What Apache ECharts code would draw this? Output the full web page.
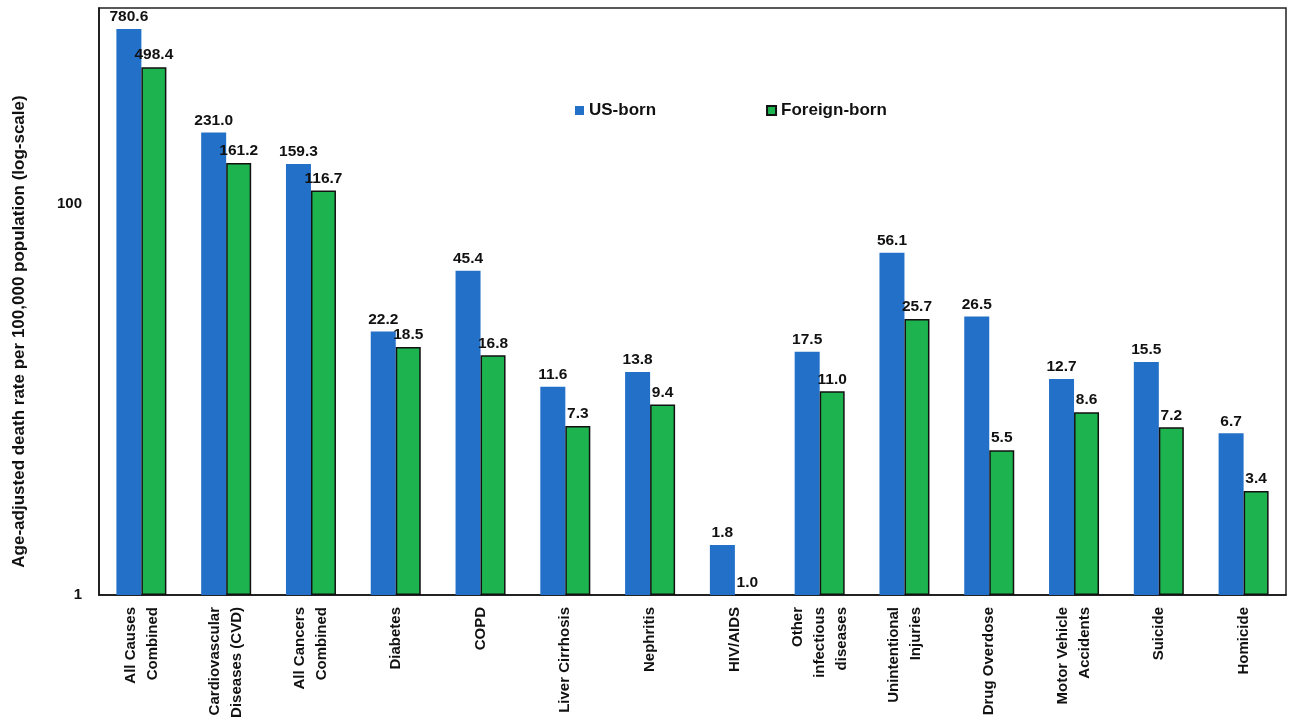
<!DOCTYPE html>
<html>
<head>
<meta charset="utf-8">
<script src="https://cdn.jsdelivr.net/npm/echarts@6/dist/echarts.min.js"></script>
<style>
html,body{margin:0;padding:0;background:#fff;}
#chart{width:1289px;height:721px;}
</style>
</head>
<body>
<div id="chart"></div>
<script>
const categories = [
  "All Causes\nCombined",
  "Cardiovascular\nDiseases (CVD)",
  "All Cancers\nCombined",
  "Diabetes",
  "COPD",
  "Liver Cirrhosis",
  "Nephritis",
  "HIV/AIDS",
  "Other\ninfectious\ndiseases",
  "Unintentional\nInjuries",
  "Drug Overdose",
  "Motor Vehicle\nAccidents",
  "Suicide",
  "Homicide"
];
const usBorn = [780.6, 231.0, 159.3, 22.2, 45.4, 11.6, 13.8, 1.8, 17.5, 56.1, 26.5, 12.7, 15.5, 6.7];
const foreignBorn = [498.4, 161.2, 116.7, 18.5, 16.8, 7.3, 9.4, 1.0, 11.0, 25.7, 5.5, 8.6, 7.2, 3.4];
const yTickLabels = [1, 100];
const seriesNames = ["US-born", "Foreign-born"];

const FONT = "'Liberation Sans', Arial, sans-serif";
const chart = echarts.init(document.getElementById('chart'));
const labelCfg = {
  show: true,
  position: 'top',
  distance: 4,
  color: '#111',
  fontFamily: FONT,
  fontWeight: 'bold',
  fontSize: 15.5,
  formatter: p => p.value.toFixed(1)
};
chart.setOption({
  animation: false,
  backgroundColor: '#fff',
  legend: {
    data: seriesNames,
    top: 97,
    left: 570,
    itemGap: 110,
    itemWidth: 9,
    itemHeight: 9,
    icon: 'rect',
    textStyle: {fontFamily: FONT, fontWeight: 'bold', fontSize: 17, color: '#111'}
  },
  grid: {
    left: 99, right: 3, top: 8, bottom: 126,
    show: true, borderColor: '#222', borderWidth: 1.5,
    containLabel: false
  },
  xAxis: {
    type: 'category',
    data: categories,
    axisLine: {lineStyle: {color: '#111', width: 1.5}},
    axisTick: {show: false},
    axisLabel: {
      rotate: 90,
      interval: 0,
      margin: 12,
      color: '#111',
      fontFamily: FONT,
      fontWeight: 'bold',
      fontSize: 15,
      lineHeight: 22
    }
  },
  yAxis: {
    type: 'log',
    logBase: 10,
    min: 1,
    max: 1000,
    interval: 2,
    name: 'Age-adjusted death rate per 100,000 population (log-scale)',
    nameLocation: 'middle',
    nameGap: 71,
    nameTextStyle: {fontFamily: FONT, fontWeight: 'bold', fontSize: 17, color: '#111', padding: [0, 60, 0, 0]},
    axisLine: {show: true, lineStyle: {color: '#111', width: 1.5}},
    axisTick: {show: false},
    splitLine: {show: false},
    axisLabel: {
      margin: 17,
      color: '#111',
      fontFamily: FONT,
      fontWeight: 'bold',
      fontSize: 15,
      formatter: v => yTickLabels.some(t => Math.abs(t - v) < 1e-6) ? String(Math.round(v)) : ''
    }
  },
  series: [
    {
      name: seriesNames[0],
      type: 'bar',
      data: usBorn,
      barWidth: 25,
      barGap: '0%',
      itemStyle: {color: '#2370C9'},
      label: labelCfg
    },
    {
      name: seriesNames[1],
      type: 'bar',
      data: foreignBorn,
      barWidth: 25,
      itemStyle: {color: '#1DB34E', borderColor: '#111', borderWidth: 1.5},
      label: labelCfg
    }
  ]
});
</script>
</body>
</html>
